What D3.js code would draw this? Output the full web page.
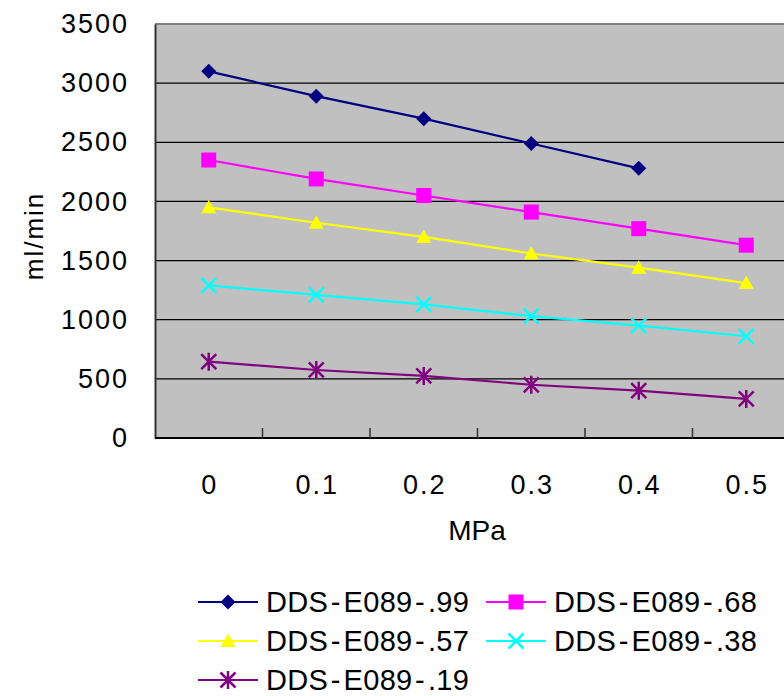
<!DOCTYPE html>
<html>
<head>
<meta charset="utf-8">
<script src="https://cdn.jsdelivr.net/npm/d3@7"></script>
<style>
  body { margin: 0; background: #fff; }
  svg { display: block; font-family: "Liberation Sans", Arial, sans-serif; }
</style>
</head>
<body>
<div id="chart"></div>
<script>
const categories = ["0", "0.1", "0.2", "0.3", "0.4", "0.5"];
const seriesNames = ["DDS-E089-.99", "DDS-E089-.68", "DDS-E089-.57", "DDS-E089-.38", "DDS-E089-.19"];
const s99 = [3100, 2890, 2700, 2490, 2280];
const s68 = [2350, 2190, 2050, 1910, 1770, 1630];
const s57 = [1950, 1820, 1700, 1560, 1440, 1310];
const s38 = [1290, 1210, 1130, 1030, 950, 860];
const s19 = [645, 575, 525, 450, 400, 330];
const yTicks = [0, 500, 1000, 1500, 2000, 2500, 3000, 3500];

const seriesValues = [s99, s68, s57, s38, s19];
const colors = ["#000080", "#ff00ff", "#ffff00", "#00ffff", "#800080"];
const markers = ["diamond", "square", "triangle", "x", "star"];

const width = 784, height = 696;
const margin = { top: 24, right: -16, bottom: 258, left: 155 };
const boundedwidth = width - margin.left - margin.right;
const boundedheight = height - margin.top - margin.bottom;

const svg = d3.select("#chart").append("svg")
    .attr("width", width)
    .attr("height", height);

const xScale = d3.scaleBand().domain(categories).range([0, boundedwidth]);
const yScale = d3.scaleLinear().domain([0, 3500]).range([boundedheight, 0]);

const g = svg.append("g")
    .attr("transform", "translate(" + margin.left + "," + margin.top + ")");

// plot background
g.append("rect")
    .attr("width", boundedwidth)
    .attr("height", boundedheight)
    .attr("fill", "#c0c0c0");

// gridlines
g.selectAll(".grid").data(yTicks.filter(d => d > 0 && d < 3500)).join("line")
    .attr("x1", 0).attr("x2", boundedwidth)
    .attr("y1", d => yScale(d)).attr("y2", d => yScale(d))
    .attr("stroke", "#000").attr("stroke-width", 1.2);

// top border
g.append("line")
    .attr("x1", 0).attr("x2", boundedwidth)
    .attr("y1", yScale(3500)).attr("y2", yScale(3500))
    .attr("stroke", "#808080").attr("stroke-width", 2);

// y axis
const yAxis = g.append("g")
    .call(d3.axisLeft(yScale).tickValues(yTicks).tickFormat(d3.format("d")).tickSize(0).tickPadding(26));
yAxis.select(".domain").attr("stroke", "#333").attr("stroke-width", 2);
yAxis.selectAll("text").attr("font-size", 27).attr("fill", "#000")
    .attr("letter-spacing", "2px")
    .attr("font-family", "Liberation Sans, Arial, sans-serif");

// x axis: ticks between categories, pointing up
const xAxisG = g.append("g").attr("transform", "translate(0," + boundedheight + ")");
xAxisG.append("line")
    .attr("x1", 0).attr("x2", boundedwidth)
    .attr("stroke", "#000").attr("stroke-width", 2);
xAxisG.selectAll(".tk").data(categories.slice(1)).join("line")
    .attr("x1", d => xScale(d)).attr("x2", d => xScale(d))
    .attr("y1", 0).attr("y2", -10)
    .attr("stroke", "#333").attr("stroke-width", 1.5);
xAxisG.selectAll(".lbl").data(categories).join("text")
    .attr("x", d => xScale(d) + xScale.bandwidth() / 2 + 1)
    .attr("y", 56)
    .attr("text-anchor", "middle")
    .attr("font-size", 27)
    .attr("letter-spacing", "2px")
    .text(d => d);

// axis titles
svg.append("text")
    .attr("x", 477).attr("y", 540)
    .attr("text-anchor", "middle")
    .attr("font-size", 28)
    .text("MPa");
svg.append("text")
    .attr("transform", "translate(43,236) rotate(-90)")
    .attr("text-anchor", "middle")
    .attr("font-size", 26)
    .attr("letter-spacing", "2px")
    .text("ml/min");

function drawMarker(sel, type, color, size) {
    const s = size;
    if (type === "diamond") {
        sel.append("path").attr("d", `M0,${-s}L${s},0L0,${s}L${-s},0Z`).attr("fill", color);
    } else if (type === "square") {
        sel.append("rect").attr("x", -s).attr("y", -s)
            .attr("width", s * 2).attr("height", s * 2).attr("fill", color);
    } else if (type === "triangle") {
        sel.append("path").attr("d", `M0,${-s}L${s},${s * 0.8}L${-s},${s * 0.8}Z`).attr("fill", color);
    } else if (type === "x") {
        sel.append("path").attr("d", `M${-s},${-s}L${s},${s}M${-s},${s}L${s},${-s}`)
            .attr("stroke", color).attr("stroke-width", 2.5);
    } else {
        sel.append("path")
            .attr("d", `M${-s},${-s}L${s},${s}M${-s},${s}L${s},${-s}M0,${-s * 1.2}L0,${s * 1.2}`)
            .attr("stroke", color).attr("stroke-width", 2.5);
    }
}

const line = d3.line()
    .x((d, i) => xScale(categories[i]) + xScale.bandwidth() / 2)
    .y(d => yScale(d));

seriesValues.forEach((vals, k) => {
    g.append("path").datum(vals)
        .attr("fill", "none")
        .attr("stroke", colors[k])
        .attr("stroke-width", 2.2)
        .attr("d", line);
    vals.forEach((v, i) => {
        const m = g.append("g")
            .attr("transform", "translate(" + (xScale(categories[i]) + xScale.bandwidth() / 2) + "," + yScale(v) + ")");
        drawMarker(m, markers[k], colors[k], 7.5);
    });
});

// legend
const legendX = [198, 486];
const legendY = [602, 641, 680];
seriesNames.forEach((name, k) => {
    const col = k % 2, row = Math.floor(k / 2);
    const lg = svg.append("g")
        .attr("transform", "translate(" + legendX[col] + "," + legendY[row] + ")");
    lg.append("line").attr("x1", 0).attr("x2", 60)
        .attr("stroke", colors[k]).attr("stroke-width", 2.2);
    drawMarker(lg.append("g").attr("transform", "translate(30,0)"), markers[k], colors[k], 7.5);
    const t = lg.append("text")
        .attr("x", 68).attr("y", 10)
        .attr("font-size", 29)
        .attr("letter-spacing", "0.3px");
    name.split("-").forEach((part, j) => {
        if (j > 0) t.append("tspan").attr("dx", 2.5).text("-");
        t.append("tspan").attr("dx", j > 0 ? 3 : 0).text(part);
    });
});
</script>
</body>
</html>
